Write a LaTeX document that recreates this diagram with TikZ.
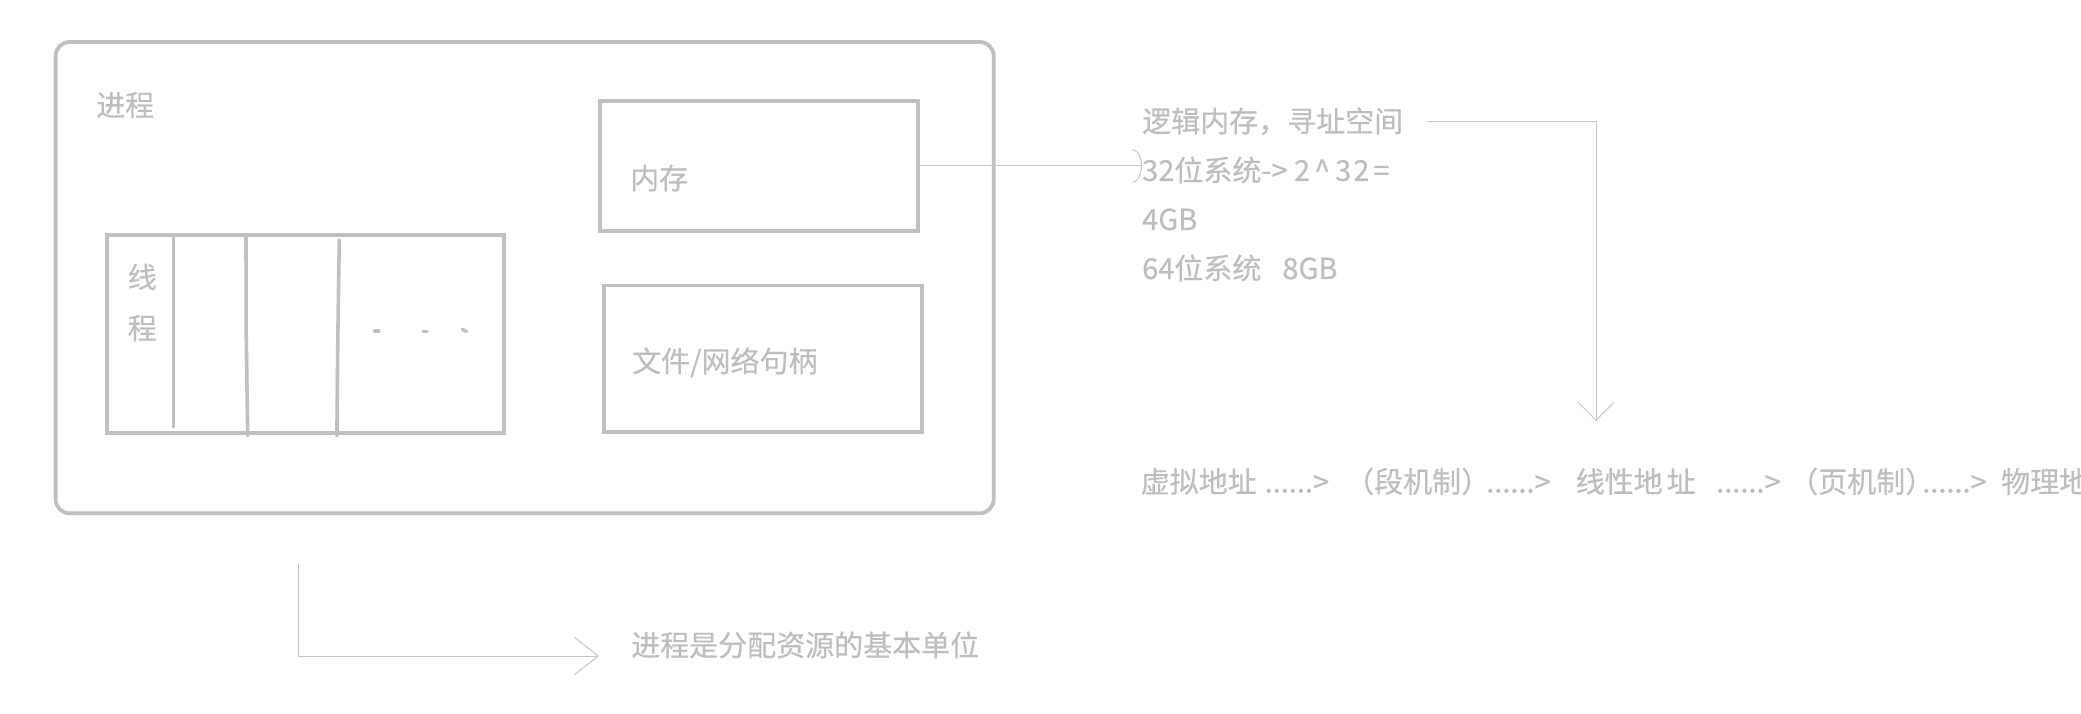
\documentclass[tikz,border=0pt]{standalone}
\usepackage{fontspec}
\setmainfont{Noto Sans CJK SC}[RawFeature={embolden=0.5}]
\usetikzlibrary{arrows.meta,calc}
\definecolor{boxc}{RGB}{192,192,192}
\definecolor{txtc}{RGB}{190,190,190}
\definecolor{linec}{RGB}{198,198,198}
\begin{document}
\begin{tikzpicture}[x=1pt,y=-1pt,
  box/.style={draw=boxc, line width=3.8pt, inner sep=0pt, minimum width=#1},
  lbl/.style={text=txtc, font=\fontsize{29}{49}\selectfont, inner sep=0pt, anchor=base west},
  conn/.style={draw=linec, line width=1pt},
  divider/.style={draw=boxc, line width=3.6pt, line cap=round}
]
\path[use as bounding box] (0,0) rectangle (2081,714);
\clip (0,0) rectangle (2081,714);

% boxes
\node[box=938.1pt, minimum height=471.3pt, rounded corners=14pt] (proc) at (524.65,277.65) {};
\node[box=397.5pt, minimum height=198.3pt] (thr) at (305.45,334.15) {};
\node[box=317.7pt, minimum height=130pt] (mem) at (758.85,166) {};
\node[box=318pt, minimum height=146.2pt] (fil) at (763.1,358.6) {};

% thread dividers
\draw[divider] (173.3,236.7) -- (173.3,426.7);
\draw[divider] (246,236.7) -- (246.2,334) -- (247.7,435.7);
\draw[divider] (339.3,240) -- (338.5,290) -- (337.8,340) -- (336.9,435.7);
% dots
\draw[divider] (374.7,331) -- (378.7,331);
\draw[divider] (423.1,331.6) -- (427,331.6);
\draw[divider] (462.4,329.3) -- (466.4,331.5);

% labels
\node[lbl] (proclbl) at (96,116) {进程};
\node[lbl, align=center, anchor=base] (thrlbl) at (142.3,339) {线\\[2pt]程};
\node[lbl] (memlbl) at (630,189) {内存};
\node[lbl] (fillbl) at (632,372) {文件/网络句柄};
\node[lbl, align=left] (logic) at (1142,279) {逻辑内存，寻址空间\\32位系统-> 2\hspace{4pt}\textasciicircum\hspace{5pt}3\hspace{2pt}2\hspace{4pt}=\\4GB\\64位系统\hspace{21pt}8GB};
\node[lbl] (unit) at (631,656) {进程是分配资源的基本单位};

% address chain
\node[lbl] (ad1) at (1140.5,492.5) {虚拟地址};
\node[lbl] (ad2) at (1264.5,492.5) {......>};
\node[lbl] (ad3) at (1345,492.5) {（段机制）};
\node[lbl] (ad4) at (1486,492.5) {......>};
\node[lbl] (ad5) at (1575.5,492.5) {线性地\hspace{4pt}址};
\node[lbl] (ad6) at (1716,492.5) {......>};
\node[lbl] (ad7) at (1789,492.5) {（页机制）};
\node[lbl] (ad8) at (1922,492.5) {......>};
\node[lbl] (ad9) at (2001,492.5) {物理地};

% connectors
\draw[conn, -{Arc Barb[length=10pt,width=34pt]}] (mem.east) -- (mem.east -| logic.west);
\coordinate (a2s) at (1428,122);
\coordinate (a2e) at (1596,421);
\draw[conn, -{Straight Barb[length=18pt,width=36pt]}] (a2s) -| (a2e);
\coordinate (b1) at (298,564);
\coordinate (b2) at (599,656);
\draw[conn, -{Straight Barb[length=24pt,width=38pt]}] (b1) |- (b2);
\end{tikzpicture}
\end{document}
